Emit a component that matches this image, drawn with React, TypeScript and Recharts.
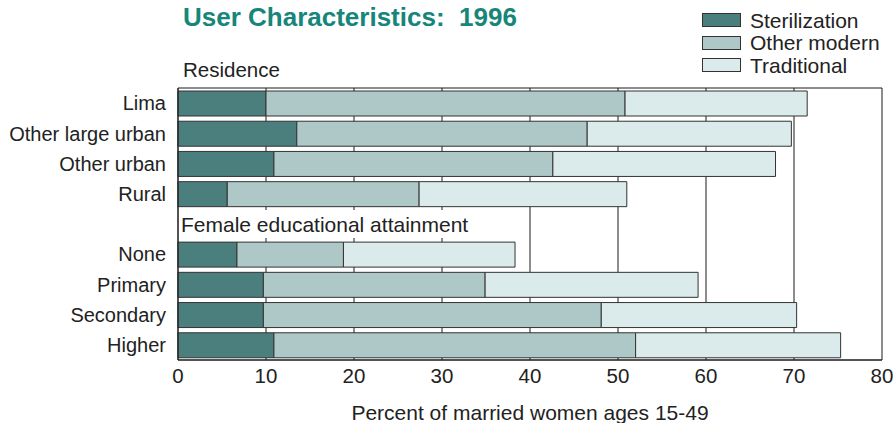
import { BarChart, Bar, XAxis, YAxis, CartesianGrid, Label } from "recharts";

const FONT = '"Liberation Sans", Arial, Helvetica, sans-serif';

const categories = [
  "Lima",
  "Other large urban",
  "Other urban",
  "Rural",
  "Female educational attainment",
  "None",
  "Primary",
  "Secondary",
  "Higher",
];
// rows that are section headings, not bars
const headings = ["Female educational attainment"];

const sterilization = [10.0, 13.5, 10.9, 5.6, null, 6.7, 9.7, 9.7, 10.9];
const otherModern = [40.8, 33.0, 31.7, 21.8, null, 12.1, 25.2, 38.4, 41.1];
const traditional = [20.7, 23.2, 25.3, 23.6, null, 19.5, 24.2, 22.2, 23.3];

const xTicks = [0, 10, 20, 30, 40, 50, 60, 70, 80];

const series = [
  { key: "sterilization", name: "Sterilization", color: "#4b7f7d" },
  { key: "otherModern", name: "Other modern", color: "#adc8c7" },
  { key: "traditional", name: "Traditional", color: "#dbeaea" },
];

const data = categories.map((name, i) => ({
  name,
  sterilization: sterilization[i],
  otherModern: otherModern[i],
  traditional: traditional[i],
}));

function CategoryTick(props: any) {
  const { x, y, payload } = props;
  if (headings.includes(payload.value)) {
    return (
      <g>
        <rect x={x + 1} y={y - 14} width={300} height={28} fill="#fff" />
        <text
          x={x + 3}
          y={y}
          dy="0.36em"
          fontSize={21}
          fill="#222"
          fontFamily={FONT}
        >
          {payload.value}
        </text>
      </g>
    );
  }
  return (
    <text
      x={x - 12}
      y={y}
      dy="0.36em"
      textAnchor="end"
      fontSize={20}
      fill="#222"
      fontFamily={FONT}
    >
      {payload.value}
    </text>
  );
}

export default function App() {
  return (
    <div
      style={{
        position: "absolute",
        left: 0,
        top: 0,
        width: 893,
        height: 423,
        background: "#fff",
        fontFamily: FONT,
      }}
    >
      <div
        style={{
          position: "absolute",
          left: 183,
          top: 4,
          fontSize: 26,
          lineHeight: 1,
          fontWeight: "bold",
          color: "#16857a",
          whiteSpace: "pre",
        }}
      >
        {"User Characteristics:  1996"}
      </div>
      <div
        style={{
          position: "absolute",
          left: 183,
          top: 60,
          fontSize: 20.5,
          lineHeight: 1,
          color: "#222",
        }}
      >
        Residence
      </div>

      {/* legend */}
      <div style={{ position: "absolute", left: 702, top: 9 }}>
        {series.map((s) => (
          <div
            key={s.key}
            style={{ display: "flex", alignItems: "center", height: 22.5 }}
          >
            <div
              style={{
                width: 37,
                height: 12,
                background: s.color,
                border: "1px solid #333",
                marginRight: 9,
              }}
            />
            <span style={{ fontSize: 21, lineHeight: 1, color: "#222" }}>
              {s.name}
            </span>
          </div>
        ))}
      </div>

      <div style={{ position: "absolute", left: 0, top: 0 }}>
        <BarChart
          width={893}
          height={423}
          data={data}
          layout="vertical"
          margin={{ top: 88, right: 11, bottom: 0, left: 0 }}
          barSize={25}
        >
          <CartesianGrid
            stroke="#1a1a1a"
            strokeWidth={1}
            horizontalCoordinatesGenerator={({ offset }: any) => [
              offset.top,
              offset.top + offset.height,
            ]}
          />
          <XAxis
            type="number"
            domain={[0, 80]}
            ticks={xTicks}
            interval={0}
            tickLine={false}
            axisLine={{ stroke: "#1a1a1a" }}
            height={63}
            tick={{ fontSize: 20.5, fill: "#222", fontFamily: FONT }}
          >
            <Label
              value="Percent of married women ages 15-49"
              position="insideBottom"
              offset={3}
              fontSize={21}
              fill="#222"
              fontFamily={FONT}
            />
          </XAxis>
          <YAxis
            type="category"
            dataKey="name"
            width={178}
            interval={0}
            tickLine={false}
            tickSize={0}
            tickMargin={0}
            axisLine={{ stroke: "#1a1a1a" }}
            tick={<CategoryTick />}
          />
          {series.map((s) => (
            <Bar
              key={s.key}
              dataKey={s.key}
              name={s.name}
              stackId="a"
              fill={s.color}
              stroke="#333"
              strokeWidth={1}
              isAnimationActive={false}
            />
          ))}
        </BarChart>
      </div>
    </div>
  );
}
